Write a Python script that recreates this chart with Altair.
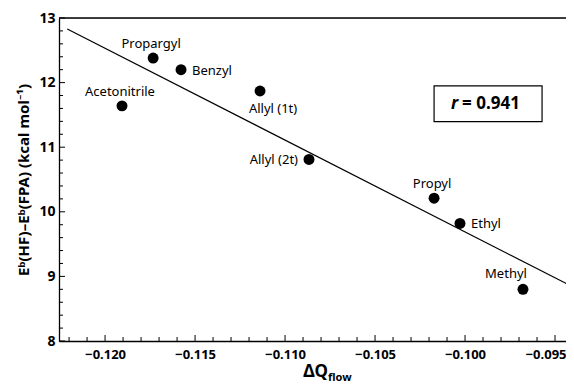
import altair as alt
import pandas as pd

# ---- data ----
names = ["Acetonitrile", "Propargyl", "Benzyl", "Allyl (1t)", "Allyl (2t)",
         "Propyl", "Ethyl", "Methyl"]
dq_flow = [-0.11906, -0.11733, -0.11578, -0.11139, -0.10867, -0.10172, -0.10028, -0.09678]
delta_e = [11.64, 12.38, 12.20, 11.87, 10.81, 10.21, 9.82, 8.80]
placement = ["above", "above", "right", "below", "left", "above", "right", "aboveleft"]

fit_x = [-0.1221, -0.0940]
fit_y = [12.83, 8.836]

r_value = "0.941"
r_box_x = [-0.10172, -0.09572]
r_box_y = [11.395, 11.95]

x_major = [-0.120, -0.115, -0.110, -0.105, -0.100, -0.095]
x_minor = [-0.122, -0.121, -0.119, -0.118, -0.117, -0.116, -0.114, -0.113, -0.112,
           -0.111, -0.109, -0.108, -0.107, -0.106, -0.104, -0.103, -0.102, -0.101,
           -0.099, -0.098, -0.097, -0.096]
y_major = [8, 9, 10, 11, 12, 13]
y_minor = [8.2, 8.4, 8.6, 8.8, 9.2, 9.4, 9.6, 9.8, 10.2, 10.4, 10.6, 10.8,
           11.2, 11.4, 11.6, 11.8, 12.2, 12.4, 12.6, 12.8]

x_domain = [-0.12256, -0.09439]
y_domain = [8, 13]

W, H = 507, 323
FONT = "Noto Sans"

pts = pd.DataFrame({"x": dq_flow, "y": delta_e, "name": names, "pos": placement})
fit = pd.DataFrame({"x": fit_x, "y": fit_y})

xs = alt.Scale(domain=x_domain, nice=False, zero=False)
ys = alt.Scale(domain=y_domain, nice=False, zero=False)

x_axis = alt.Axis(values=x_major, format=".3f", ticks=False, grid=False,
                  labelFont=FONT, labelFontSize=13, labelFontWeight="bold",
                  labelColor="black", labelPadding=7,
                  labelAlign={"condition": {"test": "datum.value > -0.0955", "value": "right"},
                              "value": "center"},
                  labelOffset={"condition": {"test": "datum.value > -0.0955", "value": 11},
                               "value": 0},
                  domainColor="black", domainWidth=1.3)
y_axis = alt.Axis(values=y_major, format="d", ticks=False, grid=False,
                  labelFont=FONT, labelFontSize=14, labelFontWeight="bold",
                  labelColor="black", labelPadding=4,
                  titleFont=FONT, titleFontSize=15, titleFontWeight="bold",
                  titleColor="black", titlePadding=7,
                  domainColor="black", domainWidth=1.3)
Y_TITLE = "Eᵇ(HF)–Eᵇ(FPA)  (kcal mol⁻¹)"

X = lambda f="x": alt.X(f"{f}:Q", scale=xs, axis=x_axis, title=None)
Y = lambda f="y": alt.Y(f"{f}:Q", scale=ys, axis=y_axis, title=Y_TITLE)

top_border = alt.Chart(pd.DataFrame({"a": [0]})).mark_rule(color="black", strokeWidth=1.3).encode(
    x=alt.value(0), x2=alt.value(W), y=alt.value(0))

def yticks(vals, length):
    return alt.Chart(pd.DataFrame({"y": vals})).mark_rule(color="black", strokeWidth=1).encode(
        y=Y(), x=alt.value(0), x2=alt.value(length))

def xticks(vals, length):
    return alt.Chart(pd.DataFrame({"x": vals})).mark_rule(color="black", strokeWidth=1).encode(
        x=X(), y=alt.value(H), y2=alt.value(H - length))

line = alt.Chart(fit).mark_line(color="black", strokeWidth=1.2, clip=True).encode(x=X(), y=Y())

points = alt.Chart(pts).mark_circle(size=120, color="black", opacity=1).encode(x=X(), y=Y())

offsets = {
    "above": dict(dx=-2, dy=-14, align="center"),
    "right": dict(dx=11, dy=1, align="left"),
    "left": dict(dx=-11, dy=1, align="right"),
    "below": dict(dx=13, dy=18, align="center"),
    "aboveleft": dict(dx=-17, dy=-15, align="center"),
}
label_layers = []
for key, o in offsets.items():
    label_layers.append(
        alt.Chart(pts).transform_filter(alt.datum.pos == key).mark_text(
            font=FONT, fontSize=13, color="black", baseline="middle", **o
        ).encode(x=X(), y=Y(), text="name:N")
    )

box = alt.Chart(pd.DataFrame({"x": [r_box_x[0]], "x2": [r_box_x[1]],
                              "y": [r_box_y[0]], "y2": [r_box_y[1]]})).mark_rect(
    fill="white", stroke="black", strokeWidth=1.2).encode(
    x=X(), x2="x2:Q", y=Y(), y2="y2:Q")

box_cx = (r_box_x[0] + r_box_x[1]) / 2
box_cy = (r_box_y[0] + r_box_y[1]) / 2
r_sym = alt.Chart(pd.DataFrame({"x": [box_cx], "y": [box_cy], "t": ["r"]})).mark_text(
    font=FONT, fontSize=17, fontWeight="bold", fontStyle="italic", color="black",
    align="right", baseline="middle", dx=-30).encode(x=X(), y=Y(), text="t:N")
r_val = alt.Chart(pd.DataFrame({"x": [box_cx], "y": [box_cy], "t": ["= " + r_value]})).mark_text(
    font=FONT, fontSize=17, fontWeight="bold", color="black",
    align="left", baseline="middle", dx=-26).encode(x=X(), y=Y(), text="t:N")

xt_main = alt.Chart(pd.DataFrame({"t": ["ΔQ"]})).mark_text(
    font=FONT, fontSize=17, fontWeight="bold", color="black", align="right",
    baseline="alphabetic").encode(x=alt.value(269), y=alt.value(H + 36), text="t:N")
xt_sub = alt.Chart(pd.DataFrame({"t": ["flow"]})).mark_text(
    font=FONT, fontSize=11, fontWeight="bold", color="black", align="left",
    baseline="alphabetic").encode(x=alt.value(269), y=alt.value(H + 40), text="t:N")

chart = alt.layer(
    points, top_border,
    yticks(y_major, 6), yticks(y_minor, 4),
    xticks(x_major, 6), xticks(x_minor, 4),
    line, *label_layers, box, r_sym, r_val, xt_main, xt_sub,
).properties(
    width=W, height=H,
    autosize=alt.AutoSizeParams(type="none"),
    padding={"left": 51, "top": 10, "right": 0, "bottom": 45},
).configure_view(stroke=None).configure(background="white")

chart.save("out.html", embed_options={"renderer": "svg", "actions": False})
